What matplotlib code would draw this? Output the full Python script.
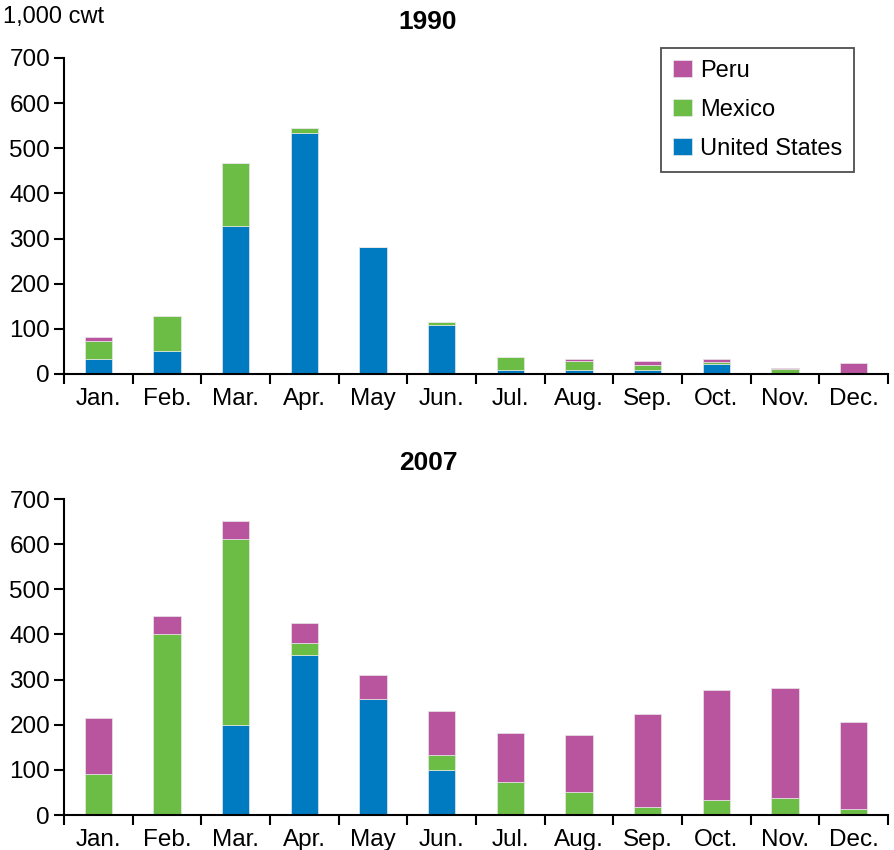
import matplotlib
matplotlib.use("Agg")
import matplotlib.pyplot as plt
import numpy as np

plt.rcParams['font.family'] = ['Liberation Sans', 'DejaVu Sans']

months = ["Jan.", "Feb.", "Mar.", "Apr.", "May", "Jun.", "Jul.", "Aug.", "Sep.", "Oct.", "Nov.", "Dec."]

us_1990 = [33, 52, 328, 534, 281, 109, 9, 9, 9, 23, 0, 0]
mexico_1990 = [39, 76, 139, 11, 0, 6, 29, 19, 10, 4, 10, 0]
peru_1990 = [9, 0, 0, 0, 0, 1, 0, 5, 10, 6, 4, 24]

us_2007 = [0, 0, 200, 354, 258, 100, 0, 0, 0, 0, 0, 0]
mexico_2007 = [91, 402, 411, 28, 0, 34, 72, 52, 18, 33, 38, 13]
peru_2007 = [124, 38, 40, 43, 53, 96, 110, 125, 206, 244, 244, 192]

c_us = "#007BC2"
c_mx = "#6CBD45"
c_pe = "#B9559E"

fig = plt.figure(figsize=(8.95, 8.5), dpi=100)
ax1 = fig.add_axes([64/895, 1-374/850, 824/895, 316/850])
ax2 = fig.add_axes([64/895, 1-815/850, 824/895, 316/850])

FS = 17.5

def draw(ax, us, mx, pe):
    x = np.arange(len(months))
    us = np.array(us); mx = np.array(mx); pe = np.array(pe)
    w = 0.4
    ec = "#e8e8e8"
    b1 = ax.bar(x, us, w, color=c_us, edgecolor=ec, linewidth=0.5, label="United States")
    b2 = ax.bar(x, mx, w, bottom=us, color=c_mx, edgecolor=ec, linewidth=0.5, label="Mexico")
    b3 = ax.bar(x, pe, w, bottom=us+mx, color=c_pe, edgecolor=ec, linewidth=0.5, label="Peru")
    ax.set_xlim(-0.5, 11.5)
    ax.set_ylim(0, 700)
    ax.set_yticks(range(0, 701, 100))
    ax.set_xticks(np.arange(-0.5, 12, 1))
    ax.set_xticklabels([])
    ax.set_xticks(x, minor=True)
    ax.set_xticklabels(months, minor=True, fontsize=FS)
    ax.tick_params(axis='x', which='minor', length=0, pad=10)
    ax.tick_params(axis='x', which='major', length=7, width=1.5, direction='out')
    ax.tick_params(axis='y', length=7, width=1.5, direction='out', labelsize=FS, pad=3)
    for s in ['top', 'right']:
        ax.spines[s].set_visible(False)
    for s in ['left', 'bottom']:
        ax.spines[s].set_linewidth(1.5)
    return b1, b2, b3

b1, b2, b3 = draw(ax1, us_1990, mexico_1990, peru_1990)
draw(ax2, us_2007, mexico_2007, peru_2007)

leg = ax1.legend([b3, b2, b1], ["Peru", "Mexico", "United States"], loc='upper right',
                 bbox_to_anchor=(854/895, 1-48/850), bbox_transform=fig.transFigure,
                 fontsize=17, frameon=True, fancybox=False, edgecolor='#222222',
                 handlelength=0.8, handleheight=0.72, handletextpad=0.35,
                 labelspacing=0.72, borderpad=0.5, borderaxespad=0)
leg.get_frame().set_linewidth(1.3)

fig.text(428/895, 1-22/850, "1990", ha='center', va='center', fontsize=19, fontweight='bold')
fig.text(428/895, 1-463/850, "2007", ha='center', va='center', fontsize=19, fontweight='bold')
fig.text(3/895, 1-17/850, "1,000 cwt", ha='left', va='center', fontsize=17)

fig.savefig("out.png", dpi=100)
